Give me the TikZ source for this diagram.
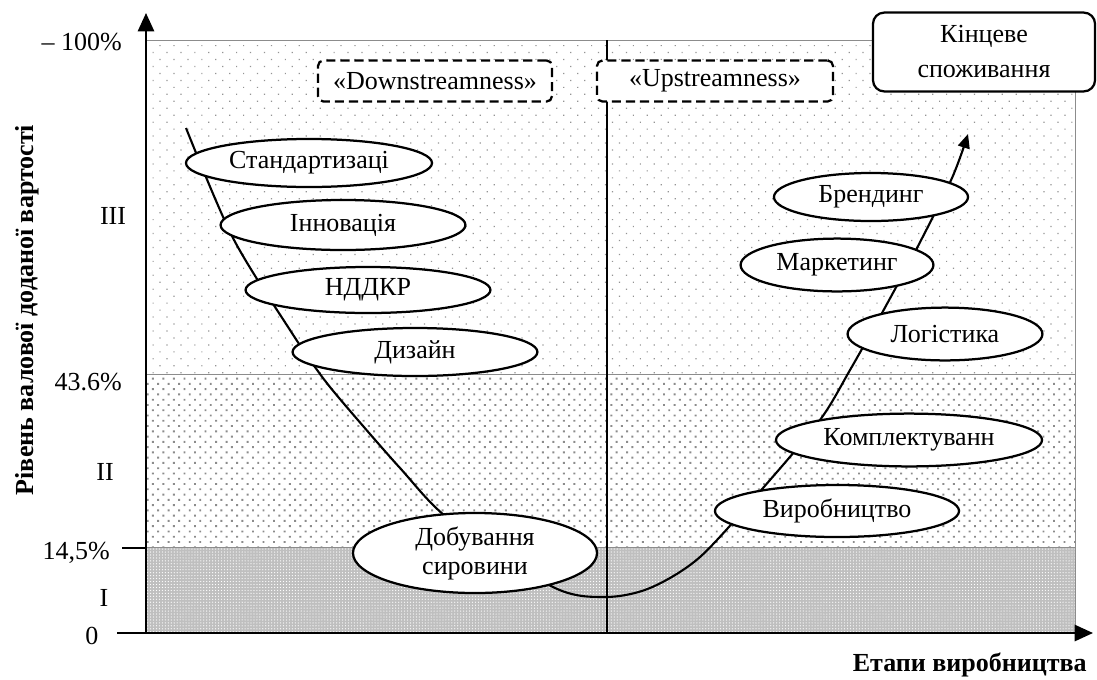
\documentclass[tikz,border=0pt]{standalone}
\usepackage{fontspec}
\setmainfont{Liberation Serif}
\usepackage{tikz}
\usetikzlibrary{shapes, arrows.meta, patterns.meta, calc}

\begin{document}
\begin{tikzpicture}[x=0.025cm, y=-0.025cm,
        font=\fontsize{18.5}{21}\selectfont,
        stage/.style={ellipse, draw, line width=1.6pt, fill=white, inner sep=0pt, minimum height=1.2cm},
        zone/.style={draw, dash pattern=on 6.5pt off 3.5pt, line width=1.6pt, rounded corners=4pt, fill=white,
            minimum width=5.85cm, minimum height=1.03cm, inner sep=1pt},
        lbl/.style={inner sep=0pt}]
        \useasboundingbox (0,0) rectangle (1097,679);

        % Value levels
        \fill[black!25] (146,547) rectangle (1075,633);
        \path[pattern={Dots[distance=2.1pt, radius=0.45pt]}, pattern color=white] (146,547) rectangle (1075,633);
        \path[pattern={Dots[distance=5.3pt, angle=45, radius=0.95pt]}, pattern color=black!45] (146,374) rectangle (1075,547);
        \path[pattern={Dots[distance=7pt, angle=45, radius=0.6pt]}, pattern color=black!42] (146,40) rectangle (1075,374);
        \draw[black!45, line width=0.7pt] (146,40) rectangle (1075,633) (146,374) -- (1075,374) (146,547) -- (1075,547);

        \draw[line width=1.5pt] (607,40) -- (607,633);

        % Smile curve
        \draw[line width=1.5pt, -{Triangle[length=10pt, width=8.5pt]}] plot[smooth, tension=0.5] coordinates {
            (186,128) (233,238) (290,330) (320,374) (345,405) (400,468) (450,520)
            (553,587) (605,597) (650,588) (700,557) (763,488) (820,420) (850,370)
            (882,313) (917,248) (952,178) (968,134)};

        % Stages
        \node[stage, minimum width=6.15cm] (standart) at (309,163) {Стандартизаці};
        \node[stage, minimum width=6.12cm, minimum height=1.25cm] (innov) at (343,225) {Інновація};
        \node[stage, minimum width=6.12cm, minimum height=1.15cm] (ndkr) at (368,290) {НДДКР};
        \node[stage, minimum width=6.12cm] (dyzain) at (415,352) {Дизайн};
        \node[stage, minimum width=6.1cm, minimum height=2cm, align=center,
            font=\fontsize{18.5}{20.6}\selectfont] (dobuv) at (475,553) {Добування\\сировини};
        \node[stage, minimum width=6.1cm, minimum height=1.3cm] (vyrob) at (837,511) {Виробництво};
        \node[stage, minimum width=6.65cm, minimum height=1.32cm] (kompl) at (909,440) {Комплектуванн};
        \node[stage, minimum width=4.87cm, minimum height=1.32cm] (logist) at (945,334) {Логістика};
        \node[stage, minimum width=4.82cm, minimum height=1.32cm] (market) at (837,265) {Маркетинг};
        \node[stage, minimum width=4.85cm] (brend) at (871,197) {Брендинг};

        % Boxes
        \node[zone] (down) at (435,81) {«Downstreamness»};
        \node[zone, minimum width=5.9cm] (up) at (715,81) {«Upstreamness»};
        \node[draw, line width=1.6pt, rounded corners=8pt, fill=white, align=center,
            minimum width=5.55cm, minimum height=1.97cm, font=\fontsize{18.5}{24.9}\selectfont]
            (kinc) at (984,52) {Кінцеве\\споживання};

        % Axes
        \draw[line width=1.5pt, -{Triangle[length=13pt, width=11.5pt]}] (146,633) -- (146,13);
        \draw[line width=1.5pt, -{Triangle[length=13pt, width=11.5pt]}] (117,633) -- (1093,633);
        \draw[line width=1.5pt] (122,548) -- (146,548);

        % Labels
        \node[lbl, anchor=east] (l100) at (122,42) {– 100\%};
        \node[lbl] (lIII) at (113,216) {III};
        \node[lbl, anchor=east] (l436) at (122,382) {43.6\%};
        \node[lbl] (lII) at (105,472) {II};
        \node[lbl, anchor=east] (l145) at (110,553) {14,5\%};
        \node[lbl] (lI) at (104,598) {I};
        \node[lbl] (l0) at (92,636) {0};
        \node[lbl, rotate=90, font=\fontsize{18.5}{21}\selectfont\bfseries] (ytitle) at (27,310) {Рівень валової доданої вартості};
        \node[lbl, anchor=east, font=\fontsize{18.5}{21}\selectfont\bfseries] (xtitle) at (1087,665) {Етапи виробництва};
\end{tikzpicture}
\end{document}
